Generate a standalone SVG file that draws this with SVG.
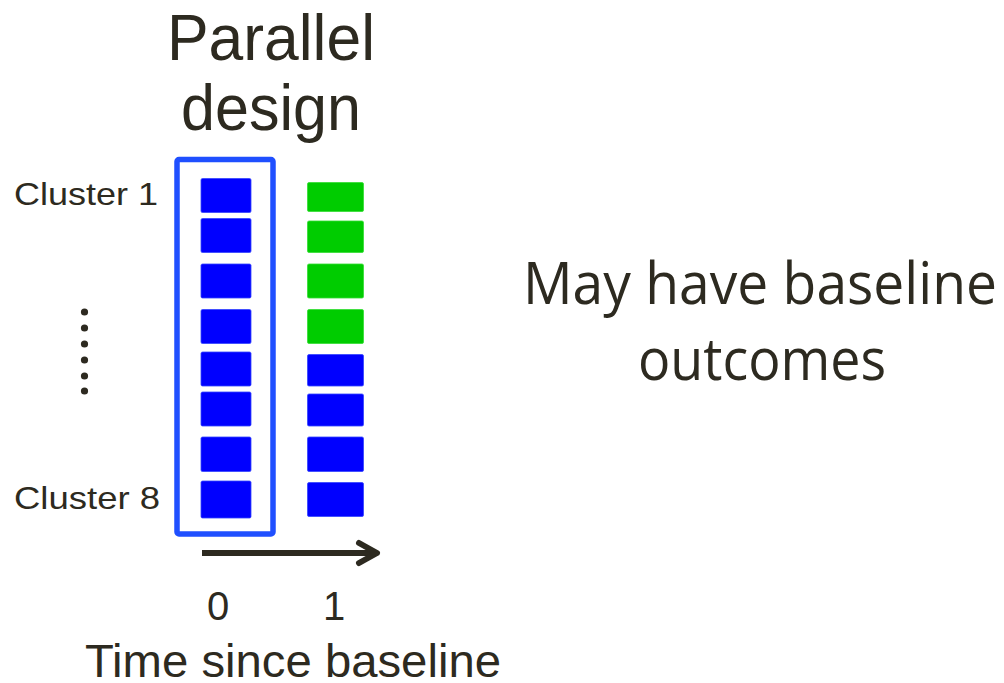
<svg xmlns="http://www.w3.org/2000/svg" width="1004" height="683" viewBox="0 0 1004 683">
  <style>
    .lbl { font-family: "Liberation Sans", Arial, sans-serif; fill: #2d2a20; }
    .big { font-family: "Open Sans", "Lato", sans-serif; fill: #2d2a20; }
    .b { fill: #0000ff; stroke: #3344ff; stroke-width: 0.8; }
    .g { fill: #00cc00; stroke: #33dd33; stroke-width: 0.8; }
    .frame { fill: none; stroke: #1f4fff; stroke-width: 5.5; }
    .axis { fill: none; stroke: #2d2a20; stroke-width: 6; }
    .dot { fill: #2d2a20; }
  </style>
  <rect width="1004" height="683" fill="#ffffff"/>

  <!-- title -->
  <g id="title">
    <text class="lbl" x="271" y="60" font-size="64" text-anchor="middle" textLength="208" lengthAdjust="spacingAndGlyphs">Parallel</text>
    <text class="lbl" x="271" y="130" font-size="64" text-anchor="middle" textLength="180" lengthAdjust="spacingAndGlyphs">design</text>
  </g>

  <!-- cluster labels -->
  <g id="cluster-labels">
    <text class="lbl" x="14" y="205" font-size="32" textLength="144" lengthAdjust="spacingAndGlyphs">Cluster 1</text>
    <text class="lbl" x="14" y="509" font-size="32" textLength="146" lengthAdjust="spacingAndGlyphs">Cluster 8</text>
    <circle class="dot" cx="84.5" cy="312" r="3.6"/>
    <circle class="dot" cx="84.5" cy="328" r="3.6"/>
    <circle class="dot" cx="84.5" cy="344" r="3.6"/>
    <circle class="dot" cx="84.5" cy="360" r="3.6"/>
    <circle class="dot" cx="84.5" cy="376" r="3.6"/>
    <circle class="dot" cx="84.5" cy="391" r="3.6"/>
  </g>

  <!-- time 0: baseline measurements -->
  <g id="time0">
    <rect class="frame" x="177" y="159.5" width="96" height="374.5" rx="2"/>
    <rect class="b" x="201" y="178.5" width="50" height="34" rx="1.5"/>
    <rect class="b" x="201" y="218.5" width="50" height="34" rx="1.5"/>
    <rect class="b" x="201" y="264" width="50" height="34" rx="1.5"/>
    <rect class="b" x="201" y="309.5" width="50" height="34" rx="1.5"/>
    <rect class="b" x="201" y="352" width="50" height="34" rx="1.5"/>
    <rect class="b" x="201" y="392" width="50" height="34" rx="1.5"/>
    <rect class="b" x="201" y="437" width="50" height="34.5" rx="1.5"/>
    <rect class="b" x="201" y="481" width="50" height="37" rx="1.5"/>
  </g>

  <!-- time 1: intervention (green) and control (blue) -->
  <g id="time1">
    <rect class="g" x="307.5" y="182.5" width="56" height="29" rx="1.5"/>
    <rect class="g" x="307.5" y="221" width="56" height="31.5" rx="1.5"/>
    <rect class="g" x="307.5" y="264" width="56" height="34" rx="1.5"/>
    <rect class="g" x="307.5" y="309.5" width="56" height="34" rx="1.5"/>
    <rect class="b" x="307.5" y="354.5" width="56" height="31.5" rx="1.5"/>
    <rect class="b" x="307.5" y="394" width="56" height="32" rx="1.5"/>
    <rect class="b" x="307.5" y="437" width="56" height="34.5" rx="1.5"/>
    <rect class="b" x="307.5" y="482.5" width="56" height="34" rx="1.5"/>
  </g>

  <!-- time axis -->
  <g id="connectors">
    <line class="axis" x1="202" y1="553" x2="376" y2="553"/>
    <polyline class="axis" points="359,543 377,553 359,563" stroke-linecap="round" stroke-linejoin="round"/>
  </g>

  <g id="axis-labels">
    <text class="lbl" x="218" y="620" font-size="40" text-anchor="middle">0</text>
    <text class="lbl" x="334" y="620" font-size="40" text-anchor="middle">1</text>
    <text class="lbl" x="85" y="677" font-size="46" textLength="416" lengthAdjust="spacingAndGlyphs">Time since baseline</text>
  </g>

  <g id="note">
    <text class="big" x="523" y="304" font-size="58" textLength="474" lengthAdjust="spacingAndGlyphs">May have baseline</text>
    <text class="big" x="638" y="380" font-size="58" textLength="248" lengthAdjust="spacingAndGlyphs">outcomes</text>
  </g>
</svg>
